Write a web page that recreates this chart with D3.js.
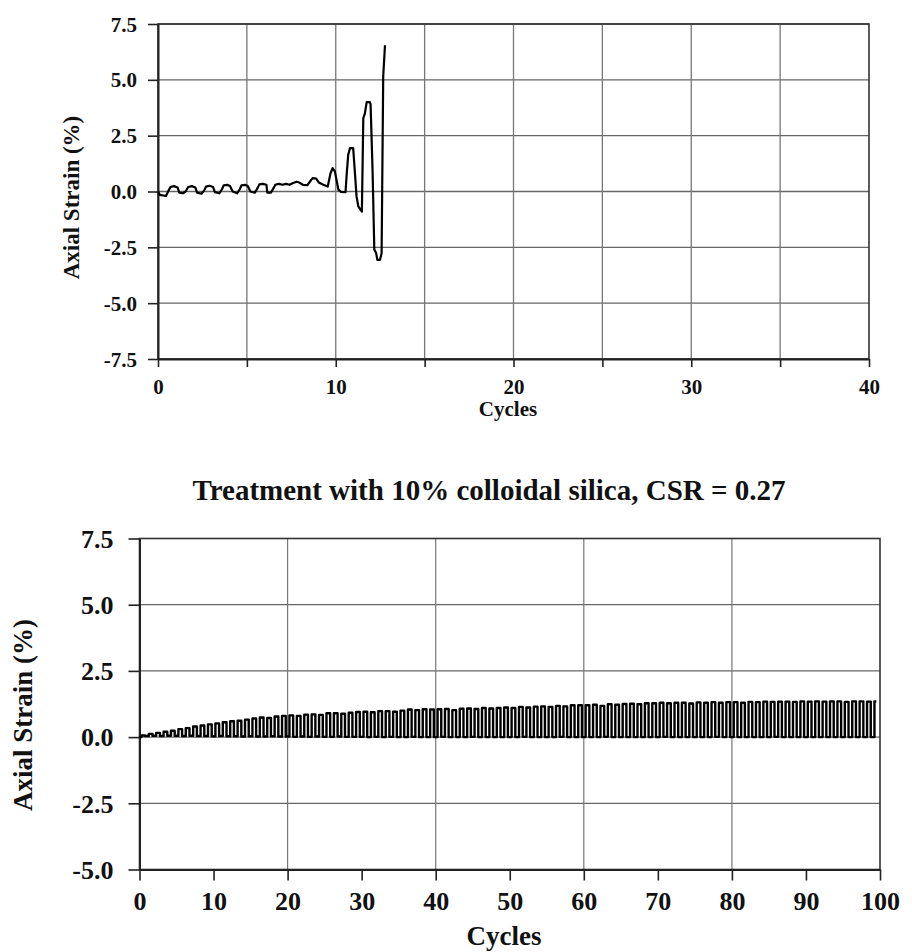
<!DOCTYPE html>
<html>
<head>
<meta charset="utf-8">
<script src="https://cdn.jsdelivr.net/npm/d3@7"></script>
<style>
body { margin: 0; background: #fff; }
svg text { font-family: "Liberation Serif", "Times New Roman", serif; font-weight: bold; fill: #111; }
</style>
</head>
<body>
<svg id="chart" width="912" height="952"></svg>
<script>
// top panel: untreated sample, liquefies near cycle 13
const topCycles = [0, 0.1, 0.45, 0.6, 0.7, 0.9, 1.1, 1.2, 1.4, 1.55, 1.7, 1.9, 2.1, 2.2, 2.45, 2.6, 2.7, 2.9, 3.1, 3.2,
    3.45, 3.6, 3.7, 3.9, 4.05, 4.2, 4.45, 4.6, 4.7, 4.9, 5.05, 5.2, 5.45, 5.6, 5.7, 5.9, 6.1, 6.15, 6.35, 6.5,
    6.6, 6.8, 7.0, 7.2, 7.4, 7.6, 7.8, 7.95, 8.15, 8.4, 8.6, 8.7, 8.9, 9.05, 9.3, 9.55, 9.7, 9.82, 9.95, 10.15,
    10.3, 10.55, 10.62, 10.7, 10.8, 10.98, 11.08, 11.17, 11.27, 11.4, 11.47, 11.55, 11.64, 11.74, 11.92, 11.96,
    12.07, 12.17, 12.27, 12.34, 12.49, 12.58, 12.67, 12.77];
const topStrain = [0, -0.15, -0.2, 0.05, 0.2, 0.24, 0.18, -0.05, -0.08, 0.0, 0.2, 0.24, 0.18, -0.05, -0.1, 0.05, 0.22, 0.26, 0.2, -0.03,
    -0.08, 0.1, 0.28, 0.3, 0.25, 0.0, -0.08, 0.1, 0.28, 0.3, 0.25, 0.0, -0.05, 0.15, 0.32, 0.34, 0.3, -0.05, -0.05, 0.15,
    0.3, 0.34, 0.3, 0.34, 0.3, 0.38, 0.44, 0.4, 0.3, 0.28, 0.5, 0.6, 0.58, 0.4, 0.3, 0.22, 0.8, 1.05, 0.9, 0.08,
    -0.02, -0.03, 0.82, 1.64, 1.94, 1.94, 0.82, -0.22, -0.67, -0.82, -0.9, 3.28, 3.5, 4.0, 4.0, 3.9,
    0.97, -2.6, -2.75, -3.06, -3.06, -2.76, 5.15, 6.55];
const topXTicks = [0, 5, 10, 15, 20, 25, 30, 35, 40];
const topXLabels = [0, 10, 20, 30, 40];
const topYTicks = [-7.5, -5, -2.5, 0, 2.5, 5, 7.5];

// bottom panel: treated sample, 100 cycles, peak/trough per cycle
const bottomTitle = "Treatment with 10% colloidal silica, CSR = 0.27";
const bottomPeaks = [
    0.06, 0.12, 0.16, 0.2, 0.24, 0.3, 0.34, 0.4, 0.44, 0.48,
    0.52, 0.56, 0.6, 0.62, 0.66, 0.7, 0.74, 0.72, 0.78, 0.8,
    0.82, 0.8, 0.85, 0.86, 0.84, 0.9, 0.9, 0.88, 0.92, 0.95,
    0.96, 0.94, 0.98, 0.98, 0.96, 1.0, 1.04, 1.02, 1.05, 1.04,
    1.05, 1.06, 1.02, 1.07, 1.08, 1.06, 1.1, 1.08, 1.1, 1.12,
    1.1, 1.14, 1.12, 1.15, 1.16, 1.14, 1.18, 1.16, 1.2, 1.2,
    1.2, 1.22, 1.18, 1.24, 1.22, 1.25, 1.26, 1.24, 1.28, 1.28,
    1.3, 1.28, 1.3, 1.3, 1.27, 1.31, 1.3, 1.32, 1.3, 1.32,
    1.32, 1.3, 1.33, 1.32, 1.34, 1.33, 1.34, 1.34, 1.33, 1.35,
    1.34, 1.35, 1.34, 1.35, 1.35, 1.33, 1.35, 1.35, 1.34, 1.35];
const bottomTroughs = [
    0.0, 0.04, 0.05, 0.04, 0.05, 0.05, 0.04, 0.05, 0.04, 0.04,
    0.03, 0.04, 0.03, 0.03, 0.02, 0.03, 0.02, 0.02, 0.03, 0.02,
    0.02, 0.01, 0.02, 0.01, 0.02, 0.01, 0.01, 0.02, 0.01, 0.01,
    0.01, 0.0, 0.01, 0.0, 0.01, 0.0, 0.0, 0.01, 0.0, 0.0,
    0.0, 0.01, 0.0, 0.0, 0.0, 0.01, 0.0, 0.0, 0.0, 0.0,
    0.0, 0.0, 0.01, 0.0, 0.0, 0.0, 0.0, 0.01, 0.0, 0.0,
    0.0, 0.0, 0.0, 0.01, 0.0, 0.0, 0.0, 0.0, 0.0, 0.0,
    0.0, 0.01, 0.0, 0.0, 0.0, 0.0, 0.0, 0.0, 0.01, 0.0,
    0.0, 0.0, 0.0, 0.0, 0.0, 0.0, 0.01, 0.0, 0.0, 0.0,
    0.0, 0.0, 0.0, 0.0, 0.0, 0.0, 0.0, 0.0, 0.0, 0.0];
const bottomXTicks = [0, 10, 20, 30, 40, 50, 60, 70, 80, 90, 100];
const bottomXGrid = [20, 40, 60, 80];
const bottomYTicks = [-5, -2.5, 0, 2.5, 5, 7.5];

const svg = d3.select("#chart");
const fmt = d => d3.format(".1f")(d).replace("\u2212", "-");

function drawPanel(p) {
    let g = svg.append("g");
    let x = d3.scaleLinear().domain(p.xDomain).range([p.left, p.right]);
    let y = d3.scaleLinear().domain(p.yDomain).range([p.bottom, p.top]);

    // gridlines
    g.selectAll(".hgrid").data(p.yTicks).enter().append("line")
        .attr("x1", p.left).attr("x2", p.right)
        .attr("y1", d => y(d)).attr("y2", d => y(d))
        .attr("stroke", "#666").attr("stroke-width", p.gridWidth);
    g.selectAll(".vgrid").data(p.xGrid).enter().append("line")
        .attr("x1", d => x(d)).attr("x2", d => x(d))
        .attr("y1", p.top).attr("y2", p.bottom)
        .attr("stroke", "#777").attr("stroke-width", p.gridWidth);

    // frame: top + right borders
    g.append("rect")
        .attr("x", p.left).attr("y", p.top)
        .attr("width", p.right - p.left).attr("height", p.bottom - p.top)
        .attr("fill", "none").attr("stroke", "#333").attr("stroke-width", 1.6);

    let yAxis = g.append("g").attr("transform", `translate(${p.left},0)`)
        .call(d3.axisLeft(y).tickValues(p.yTicks).tickSize(p.tickLen).tickSizeOuter(0)
            .tickFormat(fmt));
    let xAxis = g.append("g").attr("transform", `translate(0,${p.bottom})`)
        .call(d3.axisBottom(x).tickValues(p.xTicks).tickSize(p.xTickLen).tickSizeOuter(0)
            .tickFormat(d => p.xLabels.includes(d) ? d : ""));

    [yAxis, xAxis].forEach(a => {
        a.select(".domain").attr("stroke", "#222").attr("stroke-width", 2);
        a.selectAll(".tick line").attr("stroke", "#222").attr("stroke-width", 1.6);
        a.selectAll("text").attr("font-size", p.tickFont)
            .attr("font-family", "Liberation Serif").attr("font-weight", "bold").attr("fill", "#111");
    });
    yAxis.selectAll("text").attr("x", -p.yLabelGap).attr("dy", "0.34em");
    xAxis.selectAll("text").attr("y", p.xLabelGap).attr("dy", 0);

    // series
    let line = d3.line().x(d => x(d[0])).y(d => y(d[1])).curve(p.curve);
    g.append("path")
        .datum(p.points)
        .attr("d", line)
        .attr("fill", "none")
        .attr("stroke", "#000")
        .attr("stroke-width", p.lineWidth)
        .attr("stroke-linejoin", "round");

    // axis titles
    g.append("text")
        .attr("transform", `translate(${p.yTitleX},${(p.top + p.bottom) / 2 + p.yTitleShift}) rotate(-90)`)
        .attr("text-anchor", "middle")
        .attr("font-size", p.yTitleFont)
        .text("Axial Strain (%)");
    g.append("text")
        .attr("x", p.xTitleX).attr("y", p.xTitleY)
        .attr("text-anchor", "middle")
        .attr("font-size", p.xTitleFont)
        .text("Cycles");
}

let topPoints = topCycles.map((c, i) => [c, topStrain[i]]);

let bottomPoints = [];
bottomPeaks.forEach((pk, i) => {
    bottomPoints.push([i, bottomTroughs[i]]);
    bottomPoints.push([i + 0.5, pk]);
});

drawPanel({
    xDomain: [0, 40], yDomain: [-7.5, 7.5],
    left: 158, right: 869, top: 24, bottom: 359,
    xTicks: topXTicks, xLabels: topXLabels, xGrid: [5, 10, 15, 20, 25, 30, 35],
    yTicks: topYTicks,
    tickLen: 10, xTickLen: 8, tickFont: 21, yLabelGap: 21, xLabelGap: 35,
    gridWidth: 1.3, lineWidth: 2.2, curve: d3.curveLinear, points: topPoints,
    yTitleFont: 23, xTitleFont: 21, yTitleX: 79, yTitleShift: 6, xTitleX: 508, xTitleY: 416
});

drawPanel({
    xDomain: [0, 100], yDomain: [-5, 7.5],
    left: 139.5, right: 880, top: 538.5, bottom: 869.5,
    xTicks: bottomXTicks, xLabels: bottomXTicks, xGrid: bottomXGrid,
    yTicks: bottomYTicks,
    tickLen: 11, xTickLen: 11, tickFont: 26, yLabelGap: 26, xLabelGap: 40,
    gridWidth: 1.2, lineWidth: 2.4, curve: d3.curveStep, points: bottomPoints,
    yTitleFont: 27, xTitleFont: 27, yTitleX: 32, yTitleShift: 11, xTitleX: 504, xTitleY: 945
});

svg.append("text")
    .attr("x", 489).attr("y", 500)
    .attr("text-anchor", "middle")
    .attr("font-size", 29)
    .text(bottomTitle);
</script>
</body>
</html>
